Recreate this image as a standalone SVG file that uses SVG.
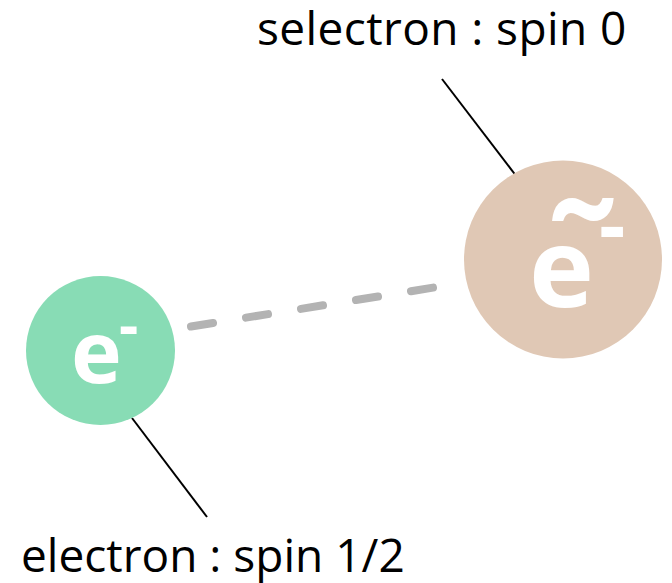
<svg xmlns="http://www.w3.org/2000/svg" width="672" height="583" viewBox="0 0 672 583">
  <style>
    .label { font-family: "Open Sans", "Noto Sans", sans-serif; font-size: 46px; fill: #000; }
    .sym { font-family: "Open Sans", "Noto Sans", sans-serif; font-weight: bold; fill: #fff; }
    .leader { stroke: #000; stroke-width: 2; fill: none; }
  </style>
  <rect width="672" height="583" fill="#fff"/>
  <g id="connectors">
    <line x1="191" y1="326.5" x2="434" y2="287.5" stroke="#b3b3b3" stroke-width="8" stroke-linecap="round" stroke-dasharray="22.3 33.4"/>
    <line class="leader" x1="442" y1="79" x2="517" y2="177"/>
    <line class="leader" x1="132" y1="418" x2="207" y2="517"/>
  </g>
  <g id="electron">
    <circle cx="100.5" cy="350.5" r="74.5" fill="#88dcb5"/>
    <text class="sym" x="71" y="383" font-size="86">e<tspan x="119" y="347" font-size="60">-</tspan></text>
  </g>
  <g id="selectron">
    <circle cx="563" cy="259.5" r="99" fill="#e0c8b5"/>
    <text class="sym" x="529" y="307" font-size="110">e<tspan x="546" y="314" font-size="152">˜</tspan><tspan x="599" y="254" font-size="82">-</tspan></text>
  </g>
  <g id="labels">
    <text class="label" x="257" y="45" letter-spacing="0.4">selectron : spin 0</text>
    <text class="label" x="21" y="572">electron : spin 1/2</text>
  </g>
</svg>
